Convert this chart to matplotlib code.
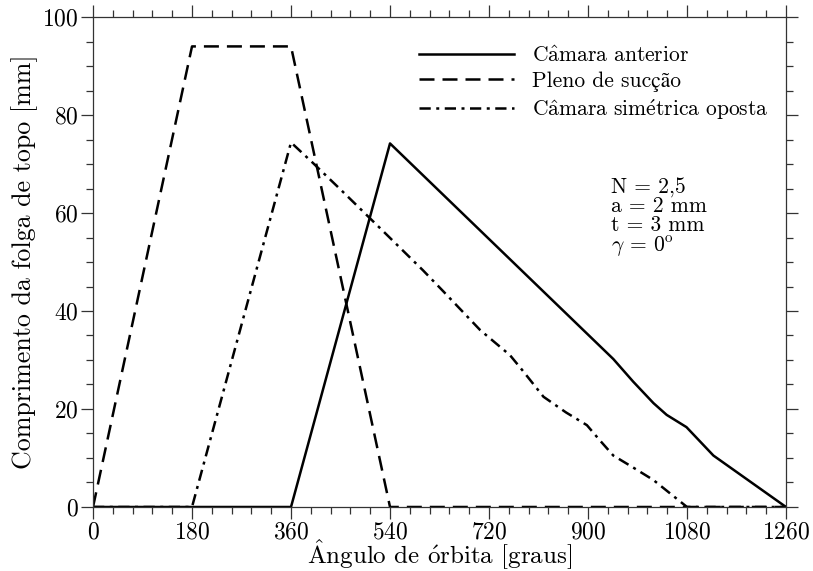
import numpy as np
import matplotlib.pyplot as plt
from matplotlib.ticker import MultipleLocator

plt.rcParams['font.family'] = ['cmr10', 'STIXGeneral']
plt.rcParams['mathtext.fontset'] = 'cm'
plt.rcParams['axes.formatter.use_mathtext'] = True

# orbit angle [deg] and clearance length [mm] for each chamber
ang_anterior = [0, 360, 540, 946, 982, 1019, 1043, 1079, 1128, 1260]
len_anterior = [0, 0, 74.2, 30.2, 25.6, 21.2, 18.8, 16.3, 10.5, 0]

ang_succao = [0, 180, 360, 540, 1260]
len_succao = [0, 94.0, 94.0, 0, 0]

ang_oposta = [0, 180, 360, 400, 450, 522, 600, 637, 704, 758, 780, 819,
              860, 898, 920, 946, 980, 1019, 1080, 1260]
len_oposta = [0, 0, 74.4, 70.2, 64.8, 56.9, 48.3, 44.0, 36.1, 31.0, 28.0, 22.5,
              19.3, 16.7, 13.8, 10.5, 8.2, 5.5, 0, 0]

# accented letters go through mathtext so they stay in Computer Modern
labels = [r'C$\hat{\rm a}$mara anterior',
          'Pleno de sucção',
          r'C$\hat{\rm a}$mara sim$\acute{\rm e}$trica oposta']
params = '\n'.join(['N = 2,5', 'a = 2 mm', 't = 3 mm', r'$\gamma$ = 0$^{\rm o}$'])
xlabel = r'$\hat{\rm A}$ngulo de $\acute{\rm o}$rbita [graus]'
ylabel = 'Comprimento da folga de topo [mm]'

fig = plt.figure(figsize=(8.13, 5.71), dpi=100)
ax = fig.add_axes([0.1144, 0.1121, 0.8524, 0.8581])

lw = 1.8
ax.plot(ang_anterior, len_anterior, color='black', lw=lw, label=labels[0])
ax.plot(ang_succao, len_succao, color='black', lw=lw, dashes=(6, 3.2), label=labels[1])
ax.plot(ang_oposta, len_oposta, color='black', lw=lw, dashes=(4.5, 2.2, 1.2, 2.2), label=labels[2])

ax.set_xlim(0, 1260)
ax.set_ylim(0, 100)
ax.xaxis.set_major_locator(MultipleLocator(180))
ax.xaxis.set_minor_locator(MultipleLocator(36))
ax.yaxis.set_major_locator(MultipleLocator(20))
ax.yaxis.set_minor_locator(MultipleLocator(5))
ax.tick_params(which='both', direction='out', top=True, right=True,
               labelsize=17, color='#333333', width=0.9, pad=2)
ax.tick_params(which='major', length=8.5)
ax.tick_params(which='minor', length=5)
for sp in ax.spines.values():
    sp.set_linewidth(0.9)
    sp.set_color('#333333')

ax.set_xlabel(xlabel, fontsize=18, labelpad=-4.5)
ax.set_ylabel(ylabel, fontsize=18.7, labelpad=3)

ax.legend(loc='upper right', bbox_to_anchor=(1.0, 0.977), frameon=False,
          fontsize=15.5, handlelength=4.4, handletextpad=0.85,
          labelspacing=0.25, borderaxespad=0.4)

ax.text(0.748, 0.672, params, transform=ax.transAxes, fontsize=15.5,
        va='top', ha='left', linespacing=0.95)

fig.savefig('out.png', dpi=100)
